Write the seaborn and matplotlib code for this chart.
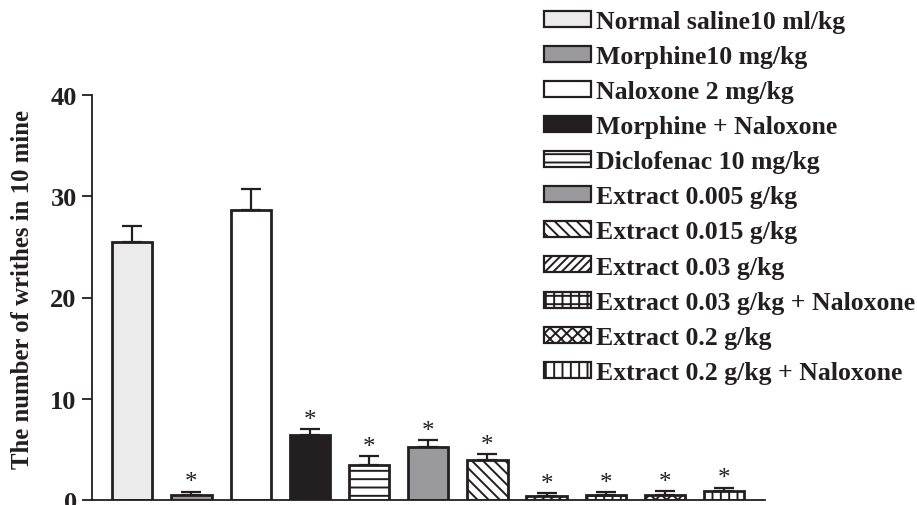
import numpy as np
import pandas as pd
import matplotlib
matplotlib.use("Agg")
import matplotlib.pyplot as plt
from matplotlib.patches import Patch
import seaborn as sns

groups = [
    "Normal saline10 ml/kg",
    "Morphine10 mg/kg",
    "Naloxone 2 mg/kg",
    "Morphine + Naloxone",
    "Diclofenac 10 mg/kg",
    "Extract 0.005 g/kg",
    "Extract 0.015 g/kg",
    "Extract 0.03 g/kg",
    "Extract 0.03 g/kg + Naloxone",
    "Extract 0.2 g/kg",
    "Extract 0.2 g/kg + Naloxone",
]
writhes = [25.5, 0.5, 28.6, 6.4, 3.5, 5.2, 4.0, 0.4, 0.45, 0.45, 0.85]
sem = [1.6, 0.3, 2.1, 0.6, 0.8, 0.7, 0.5, 0.25, 0.3, 0.4, 0.35]
significant = [False, True, False, True, True, True, True, True, True, True, True]

fills = ["#ebebeb", "#9a9a9c", "#ffffff", "#231f20", "#ffffff", "#9a9a9c",
         "#ffffff", "#ffffff", "#ffffff", "#ffffff", "#ffffff"]
hatches = [None, None, None, None, "--", None, "\\\\\\", "////", "++", "xxx", "||"]

sns.set_theme(style="ticks")
plt.rcParams["font.family"] = ["Liberation Serif", "DejaVu Serif"]
plt.rcParams["font.weight"] = "bold"
plt.rcParams["hatch.linewidth"] = 1.4
plt.rcParams["hatch.color"] = "#231f20"

df = pd.DataFrame({"group": groups, "writhes": writhes})

fig = plt.figure(figsize=(9.17, 5.06), dpi=100)
ax = fig.add_axes([92 / 917, 1 - 501 / 506, (765 - 92) / 917, (501 - 96) / 506])

sns.barplot(data=df, x="group", y="writhes", order=groups, ax=ax,
            width=0.68, errorbar=None, color="white", saturation=1)

for patch, fc, h in zip(ax.patches, fills, hatches):
    patch.set_facecolor(fc)
    patch.set_edgecolor("#231f20")
    patch.set_linewidth(2.0)
    if h:
        patch.set_hatch(h)

xpos = np.arange(len(groups))
ax.errorbar(xpos, writhes, yerr=[np.zeros(len(sem)), sem], fmt="none",
            ecolor="#231f20", elinewidth=1.6, capsize=7.5, capthick=1.6, zorder=3)

for x, m, e, s in zip(xpos, writhes, sem, significant):
    if s:
        ax.annotate("*", (x, m + e), xytext=(0, -1), textcoords="offset points",
                    ha="center", va="bottom", fontsize=18, color="#231f20",
                    fontweight="normal")

ax.set_ylim(0, 40)
ax.set_xlim(-0.68, 10.69)
ax.set_yticks([0, 10, 20, 30, 40])
ax.set_xticks([])
ax.set_xlabel("")
ax.set_ylabel("The number of writhes in 10 mine", fontsize=17.8,
              fontweight="bold", color="#231f20")
ax.yaxis.set_label_coords(-0.086, 0.521)
ax.tick_params(axis="y", labelsize=19, length=7, width=1.3, colors="#231f20",
               pad=4)
for lab in ax.get_yticklabels():
    lab.set_fontweight("bold")
for side in ("top", "right"):
    ax.spines[side].set_visible(False)
for side in ("left", "bottom"):
    ax.spines[side].set_linewidth(1.3)
    ax.spines[side].set_color("#231f20")
ax.patch.set_alpha(0)

handles = [Patch(facecolor=fc, edgecolor="#231f20", linewidth=1.6, hatch=h, label=g)
           for g, fc, h in zip(groups, fills, hatches)]
leg = fig.legend(handles=handles, loc="upper left",
                 bbox_to_anchor=(544 / 917, 1 - 11 / 506), frameon=False,
                 prop={"family": "Liberation Serif", "weight": "bold", "size": 18.5},
                 handlelength=1.83, handleheight=0.58, handletextpad=0.2,
                 labelspacing=0.47, borderaxespad=0, borderpad=0)
for t in leg.get_texts():
    t.set_color("#231f20")

fig.savefig("out.png", dpi=100)
